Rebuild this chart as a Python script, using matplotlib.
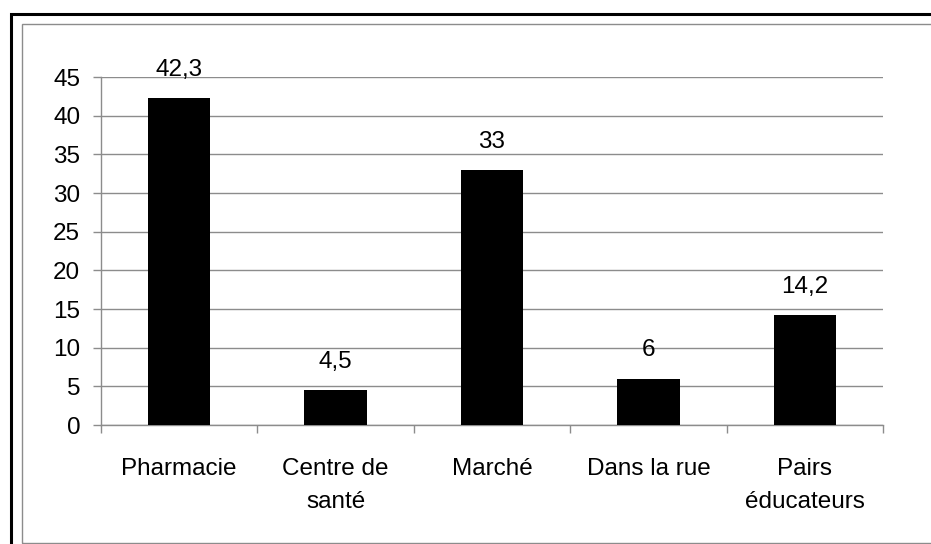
import matplotlib
matplotlib.use("Agg")
import matplotlib.pyplot as plt
from matplotlib.patches import Rectangle
import numpy as np

categories = ["Pharmacie", "Centre de\nsanté", "Marché", "Dans la rue", "Pairs\néducateurs"]
values = [42.3, 4.5, 33, 6, 14.2]
value_labels = ["42,3", "4,5", "33", "6", "14,2"]
yticks = [0, 5, 10, 15, 20, 25, 30, 35, 40, 45]

W, H = 931, 544
plt.rcParams['font.family'] = ['Liberation Sans', 'DejaVu Sans']
fig = plt.figure(figsize=(W / 100, H / 100), dpi=100)

# outer borders
fig.patches.append(Rectangle((10.5 / W, -0.1), 1.2, 1 - 13.5 / H + 0.1,
                             transform=fig.transFigure, fill=False,
                             edgecolor='black', linewidth=2.2))
fig.patches.append(Rectangle((21.5 / W, 1.5 / H), 1.2, 1 - 23.5 / H - 1.5 / H,
                             transform=fig.transFigure, fill=False,
                             edgecolor='#8c8c8c', linewidth=1.0))

ax = fig.add_axes([101 / W, 119 / H, (883 - 101) / W, (425 - 77) / H])
x = np.arange(len(categories))
ax.bar(x, values, width=0.40, color='black', zorder=3)
ax.set_xlim(-0.5, len(categories) - 0.5)
ax.set_ylim(0, 45)
ax.set_yticks(yticks)
ax.set_yticklabels([str(t) for t in yticks])
ax.yaxis.grid(True, color='#8c8c8c', linewidth=1.0, zorder=0)
ax.set_axisbelow(True)

for s in ['top', 'right']:
    ax.spines[s].set_visible(False)
for s in ['left', 'bottom']:
    ax.spines[s].set_color('#8c8c8c')
    ax.spines[s].set_linewidth(1.0)

ax.set_xticks(x)
ax.set_xticklabels(categories, linespacing=1.6)
ax.set_xticks(np.arange(-0.5, len(categories)), minor=True)
ax.tick_params(axis='x', which='major', length=0, pad=24, labelsize=17.5, colors='black')
ax.tick_params(axis='x', which='minor', length=6, width=1.0, color='#8c8c8c')
ax.tick_params(axis='y', length=6, width=1.0, color='#8c8c8c', pad=9, labelsize=17.5)

for xi, v, lab in zip(x, values, value_labels):
    ax.annotate(lab, (xi, v), xytext=(0, 16), textcoords='offset points',
                ha='center', va='baseline', fontsize=17.5, color='black')

fig.savefig("out.png", dpi=100)
